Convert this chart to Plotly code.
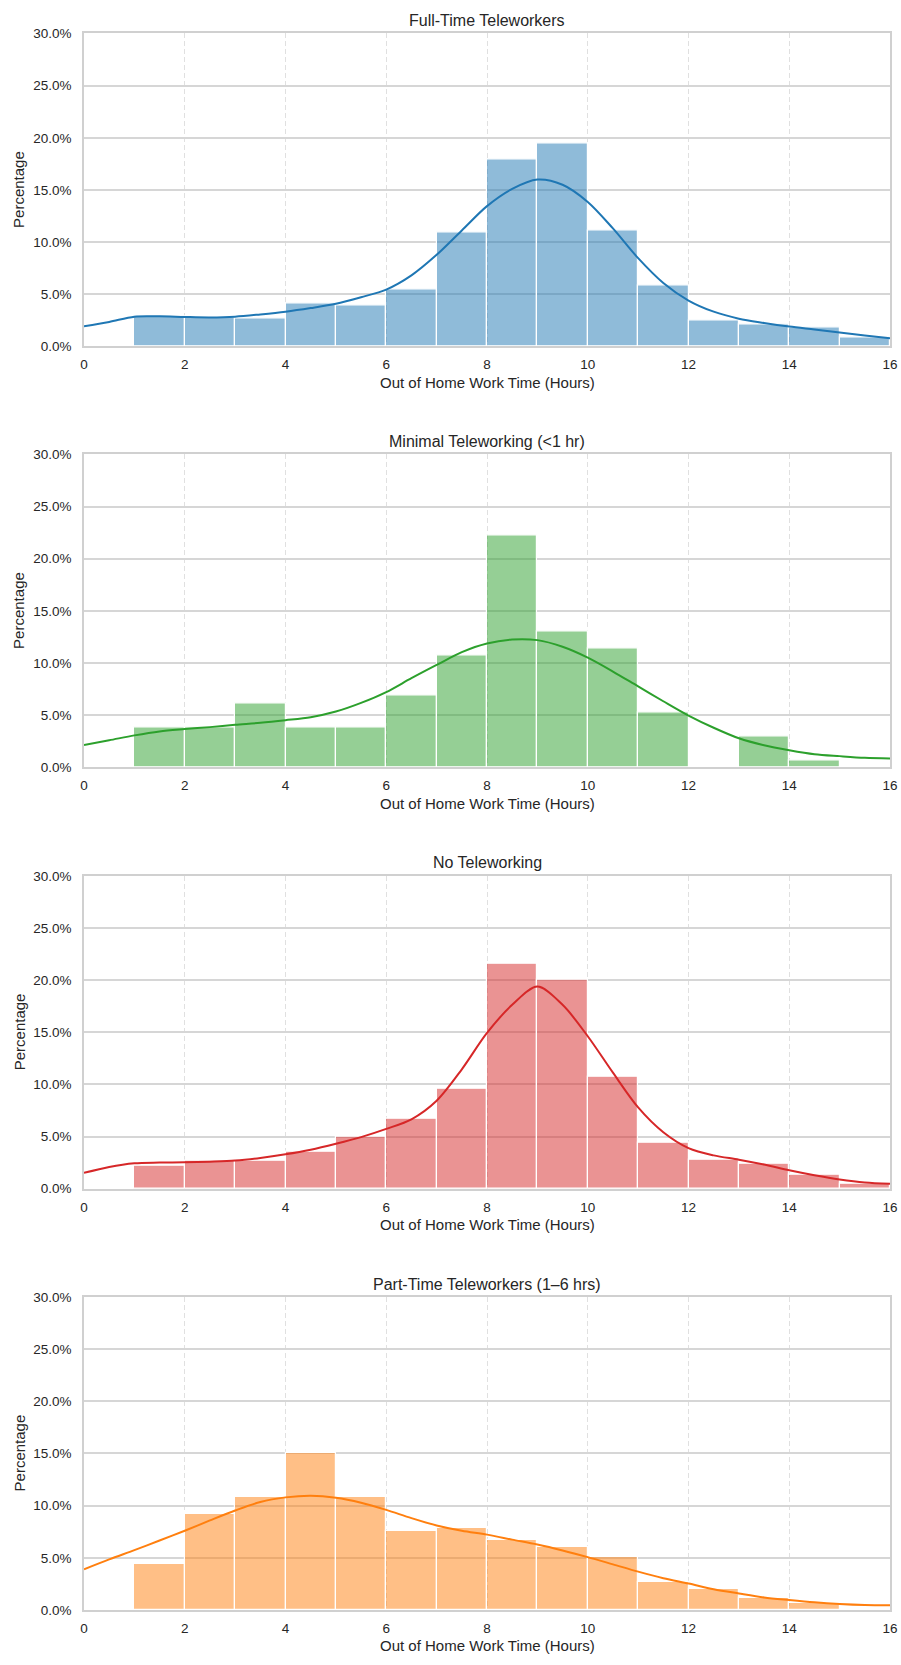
import plotly.graph_objects as go
from plotly.subplots import make_subplots

# ---- data -------------------------------------------------------------
bin_starts = [1, 2, 3, 4, 5, 6, 7, 8, 9, 10, 11, 12, 13, 14, 15]

group_titles = [
    "Full-Time Teleworkers",
    "Minimal Teleworking (<1 hr)",
    "No Teleworking",
    "Part-Time Teleworkers (1\u20136 hrs)",
]

# histogram heights (% of group) per 1-hour bin
full_time_pct = [2.9, 2.8, 2.7, 4.1, 3.9, 5.5, 10.9, 17.9, 19.5, 11.1, 5.8, 2.5, 2.1, 1.8, 0.9]
minimal_pct = [3.8, 3.8, 6.1, 3.8, 3.8, 6.9, 10.7, 22.2, 13.0, 11.4, 5.3, 0.0, 3.0, 0.7, 0.0]
none_pct = [2.2, 2.7, 2.7, 3.5, 5.0, 6.7, 9.6, 21.6, 20.0, 10.7, 4.4, 2.8, 2.4, 1.3, 0.5]
part_time_pct = [4.4, 9.2, 10.8, 15.0, 10.8, 7.6, 7.9, 6.7, 6.0, 5.1, 2.7, 2.0, 1.1, 0.7, 0.0]

# density curves (scaled to %) sampled every half hour
kde_hours = [0, 0.5, 1, 1.5, 2, 2.5, 3, 3.5, 4, 4.5, 5, 5.5, 6, 6.5, 7, 7.5, 8,
             8.5, 9, 9.5, 10, 10.5, 11, 11.5, 12, 12.5, 13, 13.5, 14, 14.5, 15, 15.5, 16]
full_time_kde = [1.93, 2.34, 2.85, 2.88, 2.82, 2.78, 2.85, 3.07, 3.33, 3.68, 4.09, 4.72, 5.45,
                 6.81, 8.78, 11.12, 13.45, 15.1, 16.0, 15.5, 13.85, 11.31, 8.46, 6.08, 4.40,
                 3.33, 2.66, 2.25, 1.90, 1.62, 1.33, 1.05, 0.79]
minimal_kde = [2.15, 2.6, 3.07, 3.45, 3.67, 3.86, 4.08, 4.27, 4.52, 4.81, 5.35, 6.18, 7.22,
               8.55, 9.82, 11.05, 11.88, 12.26, 12.2, 11.56, 10.52, 9.19, 7.76, 6.34, 4.97,
               3.80, 2.79, 2.12, 1.65, 1.27, 1.08, 0.92, 0.86]
none_kde = [1.52, 2.09, 2.44, 2.51, 2.54, 2.60, 2.70, 2.95, 3.30, 3.74, 4.31, 4.95, 5.74,
            6.66, 8.44, 11.45, 14.94, 17.63, 19.38, 17.63, 14.62, 11.13, 7.80, 5.42, 3.90,
            3.2, 2.79, 2.32, 1.78, 1.30, 0.89, 0.60, 0.48]
part_time_kde = [3.89, 4.84, 5.73, 6.65, 7.59, 8.58, 9.53, 10.35, 10.79, 10.95, 10.76, 10.28,
                 9.59, 8.80, 8.10, 7.59, 7.22, 6.74, 6.27, 5.70, 5.06, 4.37, 3.67, 3.04, 2.53,
                 1.99, 1.58, 1.20, 0.95, 0.73, 0.57, 0.47, 0.44]

y_ticks = [0, 5, 10, 15, 20, 25, 30]
y_tick_labels = ["0.0%", "5.0%", "10.0%", "15.0%", "20.0%", "25.0%", "30.0%"]
x_ticks = [0, 2, 4, 6, 8, 10, 12, 14, 16]

# ---- styling ----------------------------------------------------------
line_colors = ["#1f77b4", "#2ca02c", "#d62728", "#ff7f0e"]
fill_colors = ["rgba(31,119,180,0.5)", "rgba(44,160,44,0.5)",
               "rgba(214,39,40,0.5)", "rgba(255,127,14,0.5)"]
hist_series = [full_time_pct, minimal_pct, none_pct, part_time_pct]
kde_series = [full_time_kde, minimal_kde, none_kde, part_time_kde]

W, H = 901, 1665
L_M, R_M = 84, 11
FONT = "Liberation Sans, Arial, Helvetica, sans-serif"
TEXT = "#262626"

panel_top = [26.7, 451.5, 876.7, 1301.7]
panel_h = 315.8


def fy(px):
    return 1 - px / H


def fx(px):
    return (px - L_M) / (W - L_M - R_M)


fig = make_subplots(rows=4, cols=1)

annotations = []
for i in range(4):
    r = i + 1
    fig.add_trace(go.Bar(
        x=bin_starts, y=hist_series[i], width=1, offset=0,
        marker=dict(color=fill_colors[i], line=dict(color="white", width=1.2)),
        showlegend=False, hoverinfo="x+y",
    ), row=r, col=1)
    fig.add_trace(go.Scatter(
        x=kde_hours, y=kde_series[i], mode="lines",
        line=dict(color=line_colors[i], width=2, shape="spline", smoothing=0.9),
        showlegend=False,
    ), row=r, col=1)

    top = panel_top[i]
    bot = top + panel_h
    xa = "xaxis" if i == 0 else f"xaxis{r}"
    ya = "yaxis" if i == 0 else f"yaxis{r}"
    fig.layout[xa].update(
        domain=[0, 1], range=[0, 16], tickmode="array", tickvals=x_ticks,
        showgrid=True, gridcolor="#e0e0e0", griddash="5px,3px", gridwidth=1,
        showline=True, mirror=True, linecolor="#d0d0d0", linewidth=1.5,
        zeroline=False, ticks="outside", ticklen=5, tickcolor="rgba(0,0,0,0)",
        tickfont=dict(size=13.5, color=TEXT, family=FONT),
    )
    fig.layout[ya].update(
        domain=[fy(bot), fy(top)], range=[0, 30],
        tickmode="array", tickvals=y_ticks, ticktext=y_tick_labels,
        showgrid=True, gridcolor="#d6d6d6", gridwidth=1.5,
        showline=True, mirror=True, linecolor="#d0d0d0", linewidth=1.5,
        zeroline=False, ticks="outside", ticklen=8, tickcolor="rgba(0,0,0,0)",
        tickfont=dict(size=13.5, color=TEXT, family=FONT),
    )
    annotations.append(dict(
        text=group_titles[i], xref="paper", yref="paper",
        x=0.5, y=fy(top - 13), xanchor="center", yanchor="middle",
        showarrow=False, font=dict(size=16, color=TEXT, family=FONT),
    ))
    annotations.append(dict(
        text="Out of Home Work Time (Hours)", xref="paper", yref="paper",
        x=0.5, y=fy(bot + 36), xanchor="center", yanchor="middle",
        showarrow=False, font=dict(size=15, color=TEXT, family=FONT),
    ))
    annotations.append(dict(
        text="Percentage", xref="paper", yref="paper",
        x=fx(19), y=fy(top + panel_h / 2), xanchor="center", yanchor="middle",
        textangle=-90, showarrow=False, font=dict(size=15, color=TEXT, family=FONT),
    ))

fig.update_layout(
    width=W, height=H,
    margin=dict(l=L_M, r=R_M, t=0, b=0),
    paper_bgcolor="white", plot_bgcolor="white",
    barmode="overlay", bargap=0,
    annotations=annotations,
    font=dict(family=FONT, color=TEXT),
)

fig.write_html("out.html")
